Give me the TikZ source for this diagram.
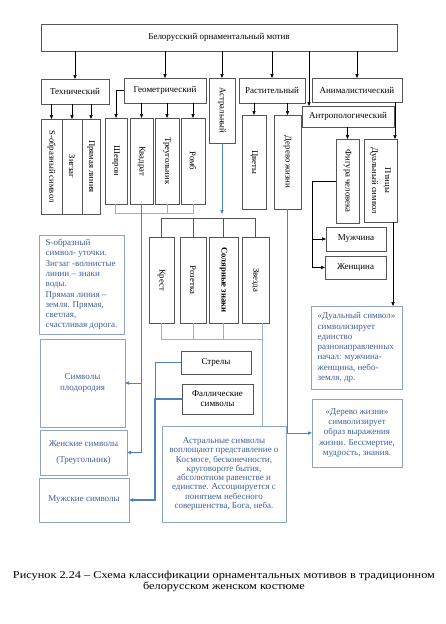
\documentclass[tikz,border=0pt]{standalone}
\usepackage{fontspec}
\setmainfont{Liberation Serif}
\usetikzlibrary{arrows.meta,calc}
\definecolor{boxc}{RGB}{85,85,85}
\definecolor{bboxc}{RGB}{140,165,195}
\definecolor{btext}{RGB}{65,95,155}
\definecolor{bline}{RGB}{79,129,189}
\definecolor{lbline}{RGB}{150,175,205}
\newcommand\labf{\fontsize{9}{10}\selectfont}
\newcommand\vlabf{\fontsize{8.7}{10}\selectfont}
\newcommand\bluef{\fontsize{9}{10.3}\selectfont}
\newcommand\bluetf{\fontsize{9}{9.3}\selectfont}
\newcommand\capf{\fontsize{10.5}{11}\selectfont}
\tikzset{
  box/.style={draw=boxc, line width=0.6pt, inner sep=1pt, outer sep=0pt, font=\labf, align=center},
  vtext/.style={rotate=-90, font=\vlabf, inner sep=0pt},
  bbox/.style={draw=bboxc, line width=0.6pt, inner sep=1pt, outer sep=0pt, font=\bluef, text=btext},
  arr/.style={-{Triangle[length=4pt,width=3.2pt]}},
  blk/.style={draw=black, line width=0.7pt},
  bl/.style={draw=bline, line width=0.8pt},
  lbl/.style={draw=lbline, line width=0.6pt},
  gl/.style={draw=boxc, line width=0.5pt}
}
\begin{document}
\begin{tikzpicture}[x=1pt,y=-1pt]
\useasboundingbox (0,0) rectangle (445,624);
\fill[white] (0,0) rectangle (445,624);
% level 0
\node[box, minimum width=356, minimum height=27] (top) at (219,37.5) {Белорусский орнаментальный мотив};
% level 1
\node[box, minimum width=68, minimum height=25] (tech) at (75,91.5) {Технический};
\node[box, minimum width=82, minimum height=25] (geom) at (165,90.5) {Геометрический};
\node[box, minimum width=26, minimum height=65, label={[vtext]center:Астральный}] (astr) at (222,110.5) {};
\node[box, minimum width=66, minimum height=25] (rast) at (272,90.5) {Растительный};
\node[box, minimum width=90, minimum height=24] (anim) at (357,90) {Анималистический};
\node[box, minimum width=92, minimum height=21] (anthro) at (348,116.5) {Антропологический};
% level 2 technical
\node[box, minimum width=21, minimum height=95, label={[vtext]center:S-образный символ}] (sfig) at (51.5,166.5) {};
\node[box, minimum width=20, minimum height=95, label={[vtext]center:Зигзаг}] (zig) at (72,166.5) {};
\node[box, minimum width=18, minimum height=95, label={[vtext]center:Прямая линия}] (line) at (91,166.5) {};
% geometric
\node[box, minimum width=22, minimum height=86, label={[vtext]center:Шеврон}] (chev) at (116,161) {};
\node[box, minimum width=23, minimum height=86, label={[vtext]center:Квадрат}] (sq) at (141.5,161) {};
\node[box, minimum width=24, minimum height=86, label={[vtext]center:Треугольник}] (tri) at (167,161) {};
\node[box, minimum width=24, minimum height=86, label={[vtext]center:Ромб}] (romb) at (193,161) {};
% plant
\node[box, minimum width=24, minimum height=94, label={[vtext]center:Цветы}] (flow) at (254,162) {};
\node[box, minimum width=27, minimum height=94, label={[vtext]center:Дерево жизни}] (tree) at (287.5,162) {};
% anthropological / animal
\node[box, minimum width=23, minimum height=84, label={[vtext]center:Фигура человека}] (fig) at (347.5,181) {};
\node[box, minimum width=33, minimum height=83, label={[vtext,align=center]center:{Птицы\\[3pt]Дуальный символ}}] (bird) at (380.5,180.5) {};
\node[box, minimum width=60, minimum height=24] (man) at (356,239) {Мужчина};
\node[box, minimum width=61, minimum height=23] (woman) at (355.5,267.5) {Женщина};
% astral
\node[box, minimum width=25, minimum height=86, label={[vtext]center:Крест}] (cross) at (161.5,280) {};
\node[box, minimum width=26, minimum height=86, label={[vtext]center:Розетка}] (ros) at (193,280) {};
\node[box, minimum width=29, minimum height=86, label={[vtext,font=\vlabf\bfseries]center:Солярные знаки}] (sol) at (223.5,280) {};
\node[box, minimum width=27, minimum height=86, label={[vtext]center:Звезда}] (star) at (255.5,280) {};
\node[box, minimum width=70, minimum height=23] (arrows) at (216,362.5) {Стрелы};
\node[box, minimum width=71, minimum height=30] (phal) at (217.5,399) {Фаллические\\символы};
% blue text boxes
\node[bbox, minimum width=85, minimum height=99, align=left] (stxt) at (81.5,284.5) {S-образный\\символ- уточки.\\Зигзаг -волнистые\\линии – знаки\\воды.\\Прямая линия –\\земля. Прямая,\\светлая,\\счастливая дорога.};
\node[bbox, minimum width=85, minimum height=88, align=center] (fert) at (82.5,383) {Символы\\плодородия};
\node[bbox, minimum width=87, minimum height=45, align=center] (fem) at (83.5,452.5) {Женские символы\\[5pt](Треугольник)};
\node[bbox, minimum width=90, minimum height=44, align=center] (male) at (84,500) {Мужские символы};
\node[bbox, font=\bluetf, minimum width=124, minimum height=96, align=center] (astxt) at (224,474) {Астральные символы\\воплощают представление о\\Космосе, бесконечности,\\круговороте бытия,\\абсолютном равенстве и\\единстве. Ассоциируется с\\понятием небесного\\совершенства, Бога, неба.};
\node[bbox, minimum width=91, minimum height=83, align=left] (dual) at (356.5,347.5) {«Дуальный символ»\\символизирует\\единство\\разнонаправленных\\начал: мужчина-\\женщина, небо-\\земля, др.};
\node[bbox, minimum width=90, minimum height=68, align=center] (treetxt) at (357,433) {«Дерево жизни»\\символизирует\\образ выражения\\жизни. Бессмертие,\\мудрость, знания.};
% caption
\node[font=\capf, align=center, inner sep=0pt] (cap) at (224,581) {\scalebox{1.17}[1]{Рисунок 2.24 – Схема классификации орнаментальных мотивов в традиционном}\\\scalebox{1.17}[1]{белорусском женском костюме}};
% helper coordinates
\coordinate (anthin) at ($(anthro.north west)+(7,0)$);
\coordinate (animout) at ($(anim.south east)+(-7,0)$);
\coordinate (dualin) at ($(dual.north east)+(-9,0)$);
\coordinate (fj) at ($(man.west)+(-14,0)$);
\coordinate (abar) at (222,218);
\coordinate (gbar) at (115,213);
\coordinate (sj) at (262,339);
\coordinate (mx) at (155,0);
% black connectors
\draw[blk,arr] (top.south -| tech) -- (tech.north);
\draw[blk,arr] (top.south -| geom) -- (geom.north);
\draw[blk,arr] (top.south -| astr) -- (astr.north);
\draw[blk,arr] (top.south -| rast) -- (rast.north);
\draw[blk,arr] (top.south -| anim) -- (anim.north);
\draw[blk,arr] (top.south -| anthin) -- (anthin);
\draw[blk,arr] (animout) -- (animout |- bird.north);
\draw[blk,arr] (tech.south -| sfig) -- (sfig.north);
\draw[blk,arr] (tech.south -| zig) -- (zig.north);
\draw[blk,arr] (tech.south -| line) -- (line.north);
\draw[blk,arr] (geom.west) -| (chev.north);
\draw[blk,arr] (geom.south -| sq) -- (sq.north);
\draw[blk,arr] (geom.south -| tri) -- (tri.north);
\draw[blk,arr] (geom.south -| romb) -- (romb.north);
\draw[blk,arr] (rast.south -| flow) -- (flow.north);
\draw[blk,arr] (rast.south -| tree) -- (tree.north);
\draw[blk,arr] (anthro.south -| fig) -- (fig.north);
\draw[blk,arr] (fig.west) -| (fj) -- (man.west);
\draw[blk,arr] (fj) |- (woman.west);
\draw[blk,arr] (bird.south -| dualin) -- (dualin);
% astral group
\draw[bl,arr] (astr.south) -- ($(abar)+(0,-4)$);
\draw[gl] (abar -| cross) -- (abar -| star);
\draw[gl] (abar -| cross) -- (cross.north);
\draw[gl] (abar -| ros) -- (ros.north);
\draw[gl] (abar -| sol) -- (sol.north);
\draw[gl] (abar -| star) -- (star.north);
\draw[lbl] (cross.south) |- (sj);
\draw[lbl] (ros.south) -- (ros.south |- sj);
\draw[lbl] (sol.south) -- (sol.south |- sj);
\draw[lbl] (star.south -| sj) -- (astxt.north -| sj);
% geometric bottoms
\draw[lbl] (chev.south -| gbar) |- (romb.south |- gbar) -- (romb.south);
\draw[lbl] (tri.south) -- (tri.south |- gbar);
\draw[bl,arr] (sq.south) |- (fem.east);
\draw[bl,arr] (sq.south |- fert.east) -- (fert.east);
% arrows/phallic to male
\draw[bl] (arrows.west) -- (arrows.west -| mx) -- (phal.west -| mx);
\draw[bl,line width=1.2pt,arr] (phal.west) -- (phal.west -| mx) |- (male.east);
% tree of life
\draw[bl,arr] (tree.south) |- (treetxt.west);
\end{tikzpicture}
\end{document}
